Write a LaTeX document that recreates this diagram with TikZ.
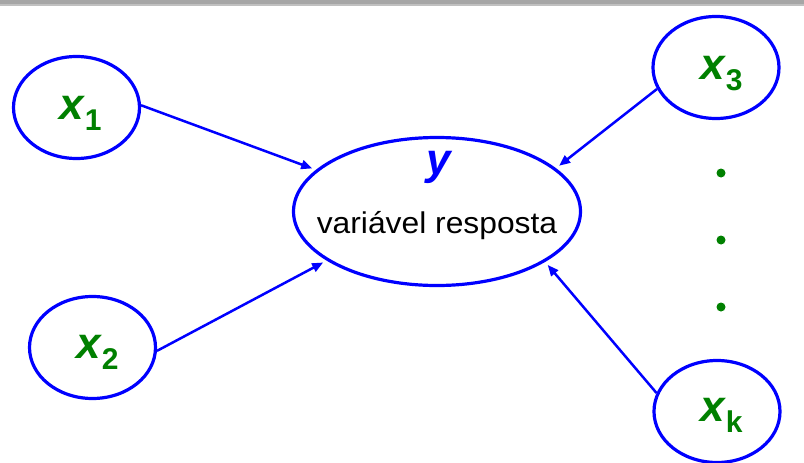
\documentclass[tikz,border=0pt]{standalone}
\usepackage{fontspec}
\setmainfont{Liberation Sans}
\usetikzlibrary{shapes.geometric,arrows.meta}
\definecolor{nodeblue}{RGB}{0,0,255}
\definecolor{labelgreen}{RGB}{0,128,0}
\definecolor{barDark}{RGB}{166,166,166}
\definecolor{barLight}{RGB}{192,192,192}
\newcommand{\sublabel}[1]{x\kern1pt\raisebox{-11pt}{\fontsize{30}{30}\selectfont\bfseries\upshape #1}}
\begin{document}
\begin{tikzpicture}[x=1pt,y=-1pt,
  var/.style={ellipse, draw=nodeblue, line width=3.2pt, minimum width=126pt,
    minimum height=102pt, inner sep=0pt},
  respvar/.style={var, minimum width=287pt, minimum height=148pt},
  link/.style={draw=nodeblue, line width=2.5pt,
    -{Triangle[length=11pt,width=9pt]}, shorten >=4pt},
  sym/.style={text=labelgreen, inner sep=0pt, anchor=base,
    font=\fontsize{44}{44}\selectfont\bfseries\itshape},
  dot/.style={circle, fill=labelgreen, minimum size=9pt, inner sep=0pt}]
  \useasboundingbox (0,0) rectangle (804,463);

  % window bar along the top edge
  \fill[barDark] (0,0) rectangle (804,3.5);
  \fill[barLight] (0,3.5) rectangle (804,5.5);

  % explanatory variables
  \node[var] (x1) at (76.5,107.5) {};
  \node[var] (x2) at (92.5,347.5) {};
  \node[var] (x3) at (716,67.5) {};
  \node[var] (xk) at (717,411.5) {};

  % response variable
  \node[respvar] (resp) at (437,211.5) {};
  \node[inner sep=0pt, anchor=base, text=nodeblue,
    font=\fontsize{44}{44}\selectfont\bfseries\itshape] (ylab) at (438.5,174) {y};
  \node[inner sep=0pt, anchor=base, font=\fontsize{30}{30}\selectfont] (resptext)
    at (437,233) {\scalebox{1.06}[1]{variável resposta}};

  % labels
  \node[sym] (l1) at (80.5,119) {\sublabel{1}};
  \node[sym] (l2) at (97.5,358) {\sublabel{2}};
  \node[sym] (l3) at (721.5,79.3) {\sublabel{3}};
  \node[sym] (lk) at (721.5,421.7) {\sublabel{k}};

  % ellipsis between x3 and xk
  \node[dot] (d1) at (721,173) {};
  \node[dot] (d2) at (721,240) {};
  \node[dot] (d3) at (721,307) {};

  % influences on the response
  \draw[link] (x1.2) -- (resp.161);
  \draw[link] (x2.-3) -- (resp.-156);
  \draw[link] (x3.-160) -- (resp.20);
  \draw[link] (xk.163) -- (resp.-25);
\end{tikzpicture}
\end{document}
